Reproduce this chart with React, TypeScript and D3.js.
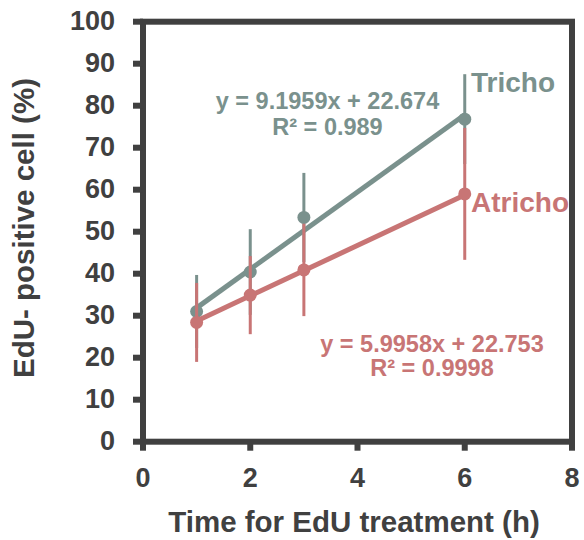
import React from "react";
import * as d3 from "d3";

const times = [1, 2, 3, 6];
const trichoMean = [31.0, 40.4, 53.4, 76.8];
const trichoErr = [8.7, 10.2, 10.6, 10.7];
const atrichoMean = [28.4, 34.9, 40.9, 59.0];
const atrichoErr = [9.4, 9.3, 11.0, 15.7];
const trichoFit = { slope: 9.1959, intercept: 22.674 };
const atrichoFit = { slope: 5.9958, intercept: 22.753 };
const xTicks = [0, 2, 4, 6, 8];
const yTicks = [0, 10, 20, 30, 40, 50, 60, 70, 80, 90, 100];

const W = 584, H = 540;
const AX = "#404040";
const C_T = "#7a918d";
const C_A = "#c87575";
const FONT = "'Liberation Sans', Arial, Helvetica, sans-serif";

export default function App() {
  const x = d3.scaleLinear().domain([0, 8]).range([143, 572]);
  const y = d3.scaleLinear().domain([0, 100]).range([441.7, 21.7]);

  const series = [
    { mean: trichoMean, err: trichoErr, fit: trichoFit, color: C_T },
    { mean: atrichoMean, err: atrichoErr, fit: atrichoFit, color: C_A },
  ];

  return (
    <svg width={W} height={H} style={{ position: "absolute", left: 0, top: 0, fontFamily: FONT, fontWeight: "bold" }}>
      <g stroke={AX} strokeWidth={6} fill="none">
        <rect x={x(0)} y={y(100)} width={x(8) - x(0)} height={y(0) - y(100)} />
      </g>
      {yTicks.map((t) => (
        <g key={"y" + t}>
          <line x1={x(0) - 10} x2={x(0)} y1={y(t)} y2={y(t)} stroke={AX} strokeWidth={6} />
          <text x={115} y={y(t) + 8} textAnchor="end" fontSize={27} fill={AX}>{t}</text>
        </g>
      ))}
      {xTicks.map((t) => (
        <g key={"x" + t}>
          <line x1={x(t)} x2={x(t)} y1={y(0)} y2={y(0) + 9} stroke={AX} strokeWidth={6} />
          <text x={x(t)} y={487} textAnchor="middle" fontSize={27} fill={AX}>{t}</text>
        </g>
      ))}
      <text x={354} y={531.5} textAnchor="middle" fontSize={29.5} fill={AX}>Time for EdU treatment (h)</text>
      <text transform={`translate(34, 228) rotate(-90)`} textAnchor="middle" fontSize={29.5} fill={AX}>EdU- positive cell (%)</text>

      {series.map((s, si) => {
        const t0 = times[0], t1 = times[times.length - 1];
        return (
          <g key={"s" + si}>
            {times.map((t, i) => (
              <line key={"e" + i} x1={x(t)} x2={x(t)} y1={y(s.mean[i] - s.err[i])} y2={y(s.mean[i] + s.err[i])} stroke={s.color} strokeWidth={3} />
            ))}
            <line x1={x(t0)} x2={x(t1)} y1={y(s.fit.slope * t0 + s.fit.intercept)} y2={y(s.fit.slope * t1 + s.fit.intercept)} stroke={s.color} strokeWidth={5} />
            {times.map((t, i) => (
              <circle key={"c" + i} cx={x(t)} cy={y(s.mean[i])} r={6.5} fill={s.color} />
            ))}
          </g>
        );
      })}

      <text x={327.5} y={109} textAnchor="middle" fontSize={23.5} fill={C_T}>y = 9.1959x + 22.674</text>
      <text x={327.5} y={135} textAnchor="middle" fontSize={23.5} fill={C_T}>R² = 0.989</text>
      <text x={432} y={352} textAnchor="middle" fontSize={23.5} fill={C_A}>y = 5.9958x + 22.753</text>
      <text x={432} y={376} textAnchor="middle" fontSize={23.5} fill={C_A}>R² = 0.9998</text>
      <text x={471} y={92} fontSize={28} fill={C_T}>Tricho</text>
      <text x={471} y={211.5} fontSize={28} fill={C_A}>Atricho</text>
    </svg>
  );
}
